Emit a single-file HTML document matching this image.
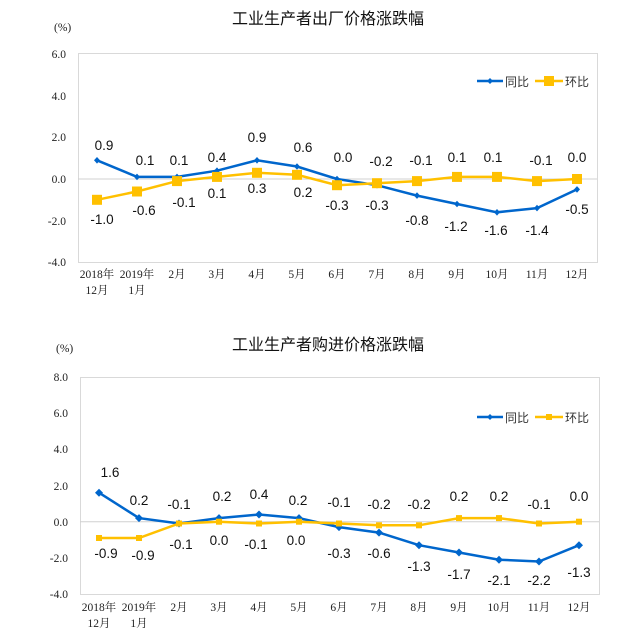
<!DOCTYPE html><html><head><meta charset="utf-8"><style>body{margin:0;background:#fff}svg{display:block}
.t{font-family:"Liberation Serif","Noto Serif CJK SC",serif;font-size:11.5px;fill:#222}
.d{font-family:"Liberation Sans",sans-serif;font-size:13.5px;fill:#111;text-anchor:middle}
.h{font-family:"Liberation Sans","Noto Sans CJK SC",sans-serif;font-size:16px;fill:#111;text-anchor:middle}
.l{font-family:"Liberation Sans","Noto Sans CJK SC",sans-serif;font-size:12px;fill:#333}
</style></head><body>
<svg width="632" height="639" viewBox="0 0 632 639" xmlns="http://www.w3.org/2000/svg">
<text class="h" x="328" y="24">工业生产者出厂价格涨跌幅</text>
<text class="t" x="54" y="31">(%)</text>
<rect x="78.5" y="53.5" width="519" height="209" fill="none" stroke="#d9d9d9"/>
<line x1="78" y1="179" x2="597" y2="179" stroke="#d0d0d0"/>
<g class="t" text-anchor="end">
<text x="66" y="58">6.0</text><text x="66" y="100">4.0</text><text x="66" y="141">2.0</text><text x="66" y="183">0.0</text><text x="66" y="225">-2.0</text><text x="66" y="266">-4.0</text></g>
<g class="t" text-anchor="middle">
<text x="97" y="278">2018年</text><text x="97" y="294">12月</text><text x="137" y="278">2019年</text><text x="137" y="294">1月</text>
<text x="177" y="278">2月</text><text x="217" y="278">3月</text><text x="257" y="278">4月</text><text x="297" y="278">5月</text><text x="337" y="278">6月</text><text x="377" y="278">7月</text><text x="417" y="278">8月</text><text x="457" y="278">9月</text><text x="497" y="278">10月</text><text x="537" y="278">11月</text><text x="577" y="278">12月</text></g>
<polyline fill="none" stroke="#0066cc" stroke-width="2.5" points="97,160.3 137,176.9 177,176.9 217,170.7 257,160.3 297,166.5 337,179 377,185.2 417,195.6 457,204 497,212.3 537,208.1 577,189.4"/>
<g fill="#0066cc"><path d="M97,157l3,3.3-3,3.3-3-3.3z"/><path d="M137,173.6l3,3.3-3,3.3-3-3.3z"/><path d="M177,173.6l3,3.3-3,3.3-3-3.3z"/><path d="M217,167.4l3,3.3-3,3.3-3-3.3z"/><path d="M257,157l3,3.3-3,3.3-3-3.3z"/><path d="M297,163.2l3,3.3-3,3.3-3-3.3z"/><path d="M337,175.7l3,3.3-3,3.3-3-3.3z"/><path d="M377,181.9l3,3.3-3,3.3-3-3.3z"/><path d="M417,192.3l3,3.3-3,3.3-3-3.3z"/><path d="M457,200.7l3,3.3-3,3.3-3-3.3z"/><path d="M497,209l3,3.3-3,3.3-3-3.3z"/><path d="M537,204.8l3,3.3-3,3.3-3-3.3z"/><path d="M577,186.1l3,3.3-3,3.3-3-3.3z"/></g>
<polyline fill="none" stroke="#ffc000" stroke-width="2.5" points="97,199.8 137,191.5 177,181.1 217,176.9 257,172.8 297,174.8 337,185.2 377,183.2 417,181.1 457,176.9 497,176.9 537,181.1 577,179"/>
<g fill="#ffc000"><rect x="92" y="194.8" width="10" height="10"/><rect x="132" y="186.5" width="10" height="10"/><rect x="172" y="176.1" width="10" height="10"/><rect x="212" y="171.9" width="10" height="10"/><rect x="252" y="167.8" width="10" height="10"/><rect x="292" y="169.8" width="10" height="10"/><rect x="332" y="180.2" width="10" height="10"/><rect x="372" y="178.2" width="10" height="10"/><rect x="412" y="176.1" width="10" height="10"/><rect x="452" y="171.9" width="10" height="10"/><rect x="492" y="171.9" width="10" height="10"/><rect x="532" y="176.1" width="10" height="10"/><rect x="572" y="174" width="10" height="10"/></g>
<g class="d"><text x="104" y="150">0.9</text><text x="145" y="165">0.1</text><text x="179" y="165">0.1</text><text x="217" y="162">0.4</text><text x="257" y="142">0.9</text><text x="303" y="152">0.6</text><text x="343" y="162">0.0</text><text x="381" y="166">-0.2</text><text x="421" y="165">-0.1</text><text x="457" y="162">0.1</text><text x="493" y="162">0.1</text><text x="541" y="165">-0.1</text><text x="577" y="162">0.0</text>
<text x="102" y="224">-1.0</text><text x="144" y="215">-0.6</text><text x="184" y="207">-0.1</text><text x="217" y="198">0.1</text><text x="257" y="193">0.3</text><text x="303" y="197">0.2</text><text x="337" y="210">-0.3</text><text x="377" y="210">-0.3</text><text x="417" y="225">-0.8</text><text x="456" y="231">-1.2</text><text x="496" y="235">-1.6</text><text x="537" y="235">-1.4</text><text x="577" y="214">-0.5</text></g>
<line x1="477" y1="81" x2="503" y2="81" stroke="#0066cc" stroke-width="2.5"/><path d="M490,78l3,3-3,3-3-3z" fill="#0066cc"/><text class="l" x="505" y="86">同比</text>
<line x1="535" y1="81" x2="563" y2="81" stroke="#ffc000" stroke-width="2.5"/><rect x="544" y="76" width="10" height="10" fill="#ffc000"/><text class="l" x="565" y="86">环比</text>
<text class="h" x="328" y="350">工业生产者购进价格涨跌幅</text>
<text class="t" x="56" y="352">(%)</text>
<rect x="80.5" y="377.5" width="519" height="217" fill="none" stroke="#d9d9d9"/>
<line x1="80" y1="521.7" x2="599" y2="521.7" stroke="#d0d0d0"/>
<g class="t" text-anchor="end">
<text x="68" y="381">8.0</text><text x="68" y="417">6.0</text><text x="68" y="453">4.0</text><text x="68" y="490">2.0</text><text x="68" y="526">0.0</text><text x="68" y="562">-2.0</text><text x="68" y="598">-4.0</text></g>
<g class="t" text-anchor="middle">
<text x="99" y="611">2018年</text><text x="99" y="627">12月</text><text x="139" y="611">2019年</text><text x="139" y="627">1月</text>
<text x="179" y="611">2月</text><text x="219" y="611">3月</text><text x="259" y="611">4月</text><text x="299" y="611">5月</text><text x="339" y="611">6月</text><text x="379" y="611">7月</text><text x="419" y="611">8月</text><text x="459" y="611">9月</text><text x="499" y="611">10月</text><text x="539" y="611">11月</text><text x="579" y="611">12月</text></g>
<polyline fill="none" stroke="#0066cc" stroke-width="2.5" points="99,492.7 139,518.1 179,523.5 219,518.1 259,514.5 299,518.1 339,527.1 379,532.6 419,545.2 459,552.5 499,559.7 539,561.5 579,545.2"/>
<g fill="#0066cc"><path d="M99,488.7l4,4-4,4-4-4z"/><path d="M139,514.1l4,4-4,4-4-4z"/><path d="M179,519.5l4,4-4,4-4-4z"/><path d="M219,514.1l4,4-4,4-4-4z"/><path d="M259,510.5l4,4-4,4-4-4z"/><path d="M299,514.1l4,4-4,4-4-4z"/><path d="M339,523.1l4,4-4,4-4-4z"/><path d="M379,528.6l4,4-4,4-4-4z"/><path d="M419,541.2l4,4-4,4-4-4z"/><path d="M459,548.5l4,4-4,4-4-4z"/><path d="M499,555.7l4,4-4,4-4-4z"/><path d="M539,557.5l4,4-4,4-4-4z"/><path d="M579,541.2l4,4-4,4-4-4z"/></g>
<polyline fill="none" stroke="#ffc000" stroke-width="2.5" points="99,538 139,538 179,523.5 219,521.7 259,523.5 299,521.7 339,523.5 379,525.3 419,525.3 459,518.1 499,518.1 539,523.5 579,521.7"/>
<g fill="#ffc000"><rect x="96" y="535" width="6" height="6"/><rect x="136" y="535" width="6" height="6"/><rect x="176" y="520.5" width="6" height="6"/><rect x="216" y="518.7" width="6" height="6"/><rect x="256" y="520.5" width="6" height="6"/><rect x="296" y="518.7" width="6" height="6"/><rect x="336" y="520.5" width="6" height="6"/><rect x="376" y="522.3" width="6" height="6"/><rect x="416" y="522.3" width="6" height="6"/><rect x="456" y="515.1" width="6" height="6"/><rect x="496" y="515.1" width="6" height="6"/><rect x="536" y="520.5" width="6" height="6"/><rect x="576" y="518.7" width="6" height="6"/></g>
<g class="d"><text x="110" y="477">1.6</text><text x="139" y="505">0.2</text><text x="179" y="509">-0.1</text><text x="222" y="501">0.2</text><text x="259" y="499">0.4</text><text x="298" y="505">0.2</text><text x="339" y="507">-0.1</text><text x="379" y="509">-0.2</text><text x="419" y="509">-0.2</text><text x="459" y="501">0.2</text><text x="499" y="501">0.2</text><text x="539" y="509">-0.1</text><text x="579" y="501">0.0</text>
<text x="106" y="558">-0.9</text><text x="143" y="560">-0.9</text><text x="181" y="549">-0.1</text><text x="219" y="545">0.0</text><text x="256" y="549">-0.1</text><text x="296" y="545">0.0</text><text x="339" y="558">-0.3</text><text x="379" y="558">-0.6</text><text x="419" y="571">-1.3</text><text x="459" y="579">-1.7</text><text x="499" y="585">-2.1</text><text x="539" y="585">-2.2</text><text x="579" y="577">-1.3</text></g>
<line x1="477" y1="417" x2="503" y2="417" stroke="#0066cc" stroke-width="2.5"/><path d="M490,414l3,3-3,3-3-3z" fill="#0066cc"/><text class="l" x="505" y="422">同比</text>
<line x1="535" y1="417" x2="563" y2="417" stroke="#ffc000" stroke-width="2.5"/><rect x="546" y="414" width="6" height="6" fill="#ffc000"/><text class="l" x="565" y="422">环比</text>
</svg></body></html>
